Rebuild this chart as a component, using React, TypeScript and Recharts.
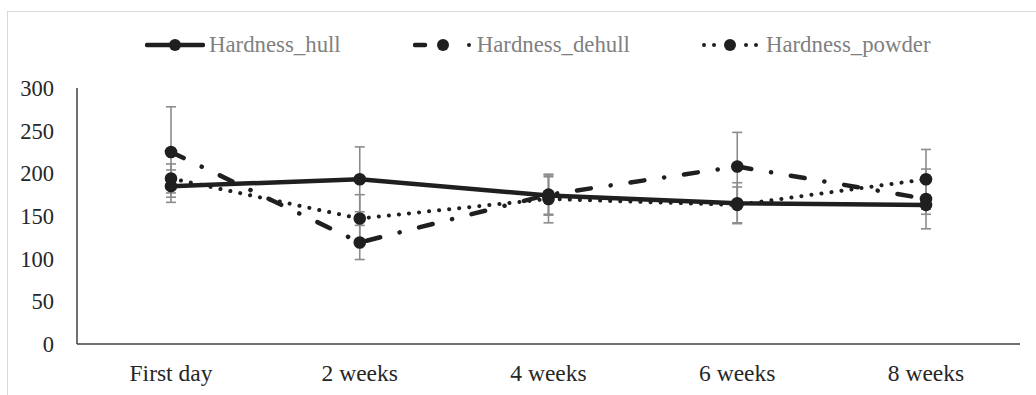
import { CartesianGrid, ErrorBar, Line, LineChart, XAxis, YAxis } from "recharts";

const categories = ["First day", "2 weeks", "4 weeks", "6 weeks", "8 weeks"];
const hull = [185, 193, 174, 165, 163];
const hullErr = [19, 38, 22, 24, 11];
const dehull = [225, 119, 175, 208, 170];
const dehullErr = [53, 20, 24, 40, 35];
const powder = [194, 147, 170, 163, 193];
const powderErr = [17, 28, 28, 21, 35];
const yTicks = [0, 50, 100, 150, 200, 250, 300];

const data = categories.map((name, i) => ({
  name,
  hull: hull[i],
  hullErr: hullErr[i],
  dehull: dehull[i],
  dehullErr: dehullErr[i],
  powder: powder[i],
  powderErr: powderErr[i],
}));

const FONT = '"Liberation Serif", "Times New Roman", serif';
const INK = "#1f1f1f";
const ERR = "#8c8c8c";

const dot = { r: 6.3, fill: INK, stroke: "none" };

function LegendIcon({ kind }: { kind: "solid" | "dashdot" | "dot" }) {
  return (
    <svg width={60} height={14} style={{ display: "block" }}>
      {kind === "solid" && (
        <line x1={2} y1={7} x2={58} y2={7} stroke={INK} strokeWidth={4.5} strokeLinecap="round" />
      )}
      {kind === "dashdot" && (
        <>
          <line x1={2} y1={7} x2={12} y2={7} stroke={INK} strokeWidth={4.5} strokeLinecap="round" />
          <circle cx={56} cy={7} r={2} fill={INK} />
        </>
      )}
      {kind === "dot" && (
        <>
          <circle cx={2} cy={7} r={2} fill={INK} />
          <circle cx={12} cy={7} r={2} fill={INK} />
          <circle cx={44} cy={7} r={2} fill={INK} />
          <circle cx={54} cy={7} r={2} fill={INK} />
        </>
      )}
      <circle cx={kind === "dot" ? 28 : 30} cy={7} r={6} fill={INK} />
    </svg>
  );
}

const legendItems: { label: string; kind: "solid" | "dashdot" | "dot" }[] = [
  { label: "Hardness_hull", kind: "solid" },
  { label: "Hardness_dehull", kind: "dashdot" },
  { label: "Hardness_powder", kind: "dot" },
];

export default function App() {
  return (
    <div
      style={{
        position: "absolute",
        left: 0,
        top: 0,
        width: 1036,
        height: 395,
        background: "#fff",
        fontFamily: FONT,
      }}
    >
      <div
        style={{
          position: "absolute",
          left: 7,
          top: 11,
          right: 0,
          bottom: 0,
          borderLeft: "1.5px solid #d9d9d9",
          borderTop: "1.5px solid #d9d9d9",
        }}
      />
      <LineChart
        width={1036}
        height={395}
        data={data}
        margin={{ top: 88, right: 16, bottom: 0, left: 0 }}
        style={{ position: "absolute", left: 0, top: 0 }}
      >
        <CartesianGrid vertical={false} horizontal={false} />
        <XAxis
          dataKey="name"
          height={51}
          padding={{ left: 94, right: 94 }}
          tickLine={false}
          tickMargin={14}
          axisLine={{ stroke: "#404040", strokeWidth: 1.5 }}
          tick={{ fill: "#262626", fontSize: 23.5, fontFamily: FONT }}
          interval={0}
        />
        <YAxis
          width={77}
          domain={[0, 300]}
          ticks={yTicks}
          tickLine={false}
          tickMargin={17}
          axisLine={{ stroke: "#404040", strokeWidth: 1.5 }}
          tick={{ fill: "#262626", fontSize: 22.5, fontFamily: FONT }}
        />
        <Line
          dataKey="powder"
          stroke={INK}
          strokeWidth={4}
          strokeDasharray="0.1 10"
          strokeLinecap="round"
          dot={dot}
          activeDot={false}
          isAnimationActive={false}
        >
          <ErrorBar dataKey="powderErr" width={5} stroke={ERR} strokeWidth={1.6} direction="y" isAnimationActive={false} />
        </Line>
        <Line
          dataKey="dehull"
          stroke={INK}
          strokeWidth={4.5}
          strokeDasharray="14 20 0.1 20"
          strokeLinecap="round"
          dot={dot}
          activeDot={false}
          isAnimationActive={false}
        >
          <ErrorBar dataKey="dehullErr" width={5} stroke={ERR} strokeWidth={1.6} direction="y" isAnimationActive={false} />
        </Line>
        <Line
          dataKey="hull"
          stroke={INK}
          strokeWidth={4.5}
          dot={dot}
          activeDot={false}
          isAnimationActive={false}
        >
          <ErrorBar dataKey="hullErr" width={5} stroke={ERR} strokeWidth={1.6} direction="y" isAnimationActive={false} />
        </Line>
      </LineChart>
      <div
        style={{
          position: "absolute",
          left: 145,
          top: 31,
          height: 28,
          display: "flex",
          alignItems: "center",
          gap: 72,
        }}
      >
        {legendItems.map((it) => (
          <div key={it.label} style={{ display: "flex", alignItems: "center", gap: 4 }}>
            <LegendIcon kind={it.kind} />
            <span style={{ fontSize: 22.8, color: "#808080", lineHeight: "28px" }}>{it.label}</span>
          </div>
        ))}
      </div>
    </div>
  );
}
